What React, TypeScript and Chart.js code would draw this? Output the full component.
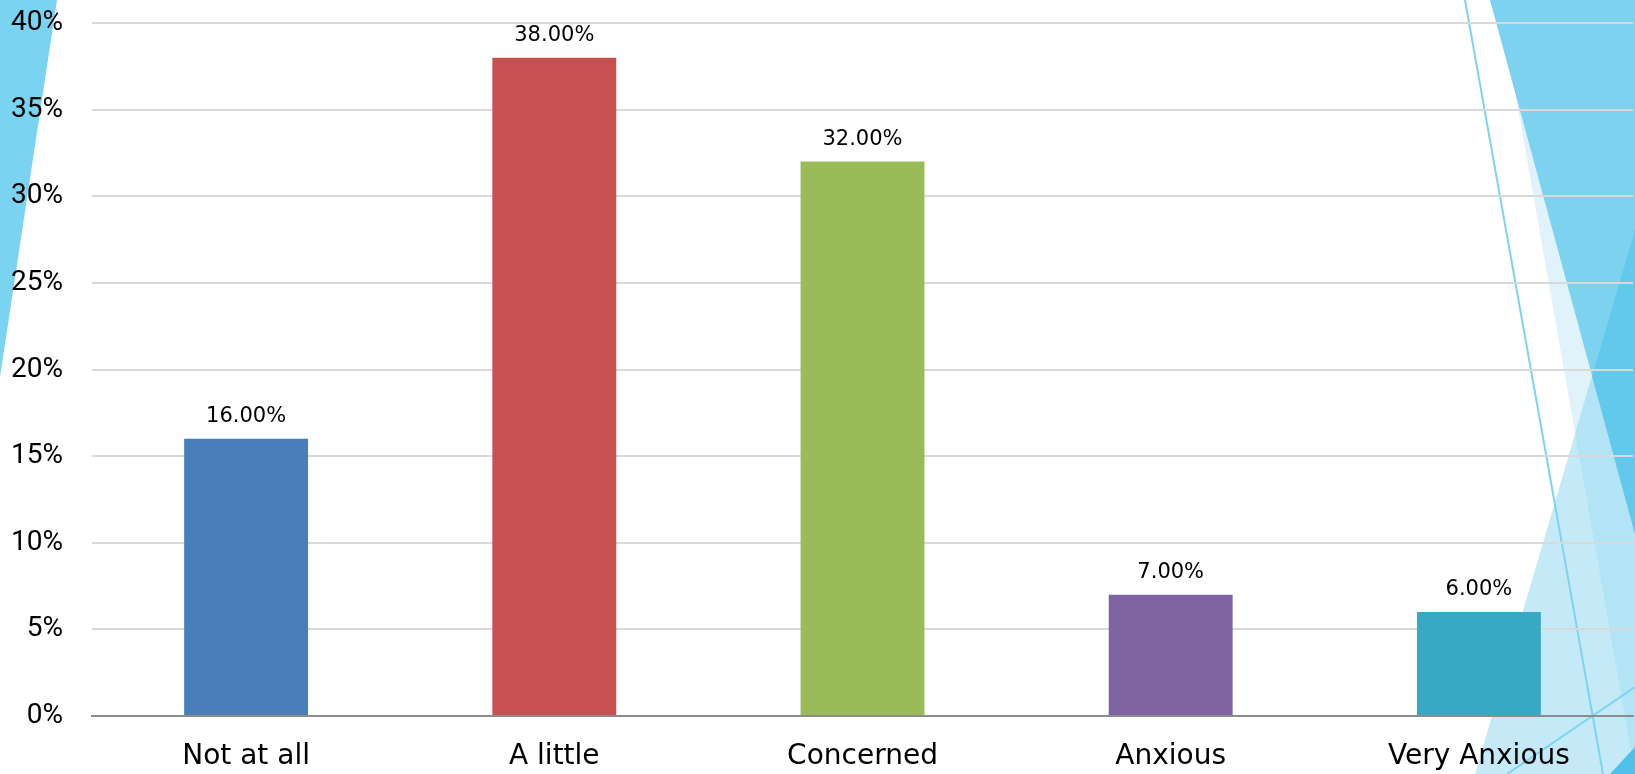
import React, { useEffect, useRef } from "react";
import { Chart, registerables } from "chart.js";

Chart.register(...registerables);

const categories = ["Not at all", "A little", "Concerned", "Anxious", "Very Anxious"];
const values = [16, 38, 32, 7, 6];
const barColors = ["#4A7EBB", "#C65150", "#9BBB59", "#8064A2", "#37A9C5"];
const yTicks = [0, 5, 10, 15, 20, 25, 30, 35, 40];

const W = 1635;
const H = 774;

type Pt = [number, number];

function poly(ctx: CanvasRenderingContext2D, pts: Pt[]) {
  ctx.beginPath();
  ctx.moveTo(pts[0][0], pts[0][1]);
  for (let i = 1; i < pts.length; i++) ctx.lineTo(pts[i][0], pts[i][1]);
  ctx.closePath();
}

const decoPlugin = {
  id: "deco",
  beforeDraw(chart: any) {
    const ctx: CanvasRenderingContext2D = chart.ctx;
    ctx.save();
    ctx.fillStyle = "#ffffff";
    ctx.fillRect(0, 0, W, H);
    poly(ctx, [[0, 0], [57, 0], [0, 377]]);
    ctx.fillStyle = "#7AD3F0";
    ctx.fill();

    const A: Pt[] = [[1490, 0], [1635, 0], [1635, 534]];
    const B: Pt[] = [[1635, 230], [1475, 774], [1635, 774]];
    const C: Pt[] = [[1499, 0], [1635, 0], [1635, 774]];
    poly(ctx, C);
    ctx.fillStyle = "#E0F3FA";
    ctx.fill();
    poly(ctx, B);
    ctx.fillStyle = "#C4EAF7";
    ctx.fill();
    ctx.save();
    poly(ctx, C);
    ctx.clip();
    poly(ctx, B);
    ctx.fillStyle = "#B2E4F6";
    ctx.fill();
    ctx.restore();
    poly(ctx, A);
    ctx.fillStyle = "#7DD3EF";
    ctx.fill();
    ctx.save();
    poly(ctx, B);
    ctx.clip();
    poly(ctx, A);
    ctx.fillStyle = "#62C8EC";
    ctx.fill();
    ctx.restore();
    poly(ctx, [[1610, 774], [1635, 747], [1635, 774]]);
    ctx.fillStyle = "#4FC0E9";
    ctx.fill();
    ctx.strokeStyle = "#7DD4F0";
    ctx.lineWidth = 2;
    ctx.beginPath();
    ctx.moveTo(1465, 0);
    ctx.lineTo(1603, 774);
    ctx.stroke();
    ctx.beginPath();
    ctx.moveTo(1507, 774);
    ctx.lineTo(1635, 687);
    ctx.stroke();
    ctx.restore();
  },
};

const labelPlugin = {
  id: "barLabels",
  afterDatasetsDraw(chart: any) {
    const ctx: CanvasRenderingContext2D = chart.ctx;
    const meta = chart.getDatasetMeta(0);
    ctx.save();
    ctx.font = "21px 'DejaVu Sans'";
    ctx.fillStyle = "#000000";
    ctx.textAlign = "center";
    ctx.textBaseline = "alphabetic";
    meta.data.forEach((bar: any, i: number) => {
      const v = chart.data.datasets[0].data[i] as number;
      ctx.fillText(v.toFixed(2) + "%", bar.x, bar.y - 17);
    });
    ctx.restore();
  },
};

export default function App() {
  const ref = useRef<HTMLCanvasElement | null>(null);
  useEffect(() => {
    if (!ref.current) return;
    const chart = new Chart(ref.current, {
      type: "bar",
      data: {
        labels: categories,
        datasets: [
          {
            data: values,
            backgroundColor: barColors,
            barPercentage: 0.402,
            categoryPercentage: 1.0,
          },
        ],
      },
      options: {
        animation: false,
        responsive: false,
        devicePixelRatio: 1,
        layout: { padding: { top: 23, right: 2, left: 0, bottom: 0 } },
        plugins: { legend: { display: false }, tooltip: { enabled: false } },
        scales: {
          x: {
            grid: { display: false, drawTicks: false },
            border: { display: true, color: "#8C8C8C", width: 2 },
            ticks: {
              color: "#000000",
              font: { family: "'DejaVu Sans'", size: 28 },
              padding: 24,
              maxRotation: 0,
              autoSkip: false,
            },
            afterFit: (s: any) => {
              s.height = 58;
              s.paddingLeft = 0;
              s.paddingRight = 0;
            },
          },
          y: {
            min: 0,
            max: 40,
            afterBuildTicks: (s: any) => {
              s.ticks = yTicks.map((v) => ({ value: v }));
            },
            grid: {
              drawTicks: false,
              color: (c: any) => (c.tick && c.tick.value === 0 ? "rgba(0,0,0,0)" : "#D9D9D9"),
              lineWidth: 2,
            },
            border: { display: false },
            ticks: {
              color: "#000000",
              font: { family: "Roboto", size: 28 },
              padding: 29,
              callback: (v: any) => v + "%",
            },
            afterFit: (s: any) => {
              s.width = 92;
              s.paddingTop = 0;
              s.paddingBottom = 0;
            },
          },
        },
      },
      plugins: [decoPlugin, labelPlugin],
    });
    return () => chart.destroy();
  }, []);
  return (
    <div style={{ position: "fixed", left: 0, top: 0, width: W, height: H }}>
      <canvas ref={ref} width={W} height={H} style={{ width: W, height: H, display: "block" }} />
    </div>
  );
}
